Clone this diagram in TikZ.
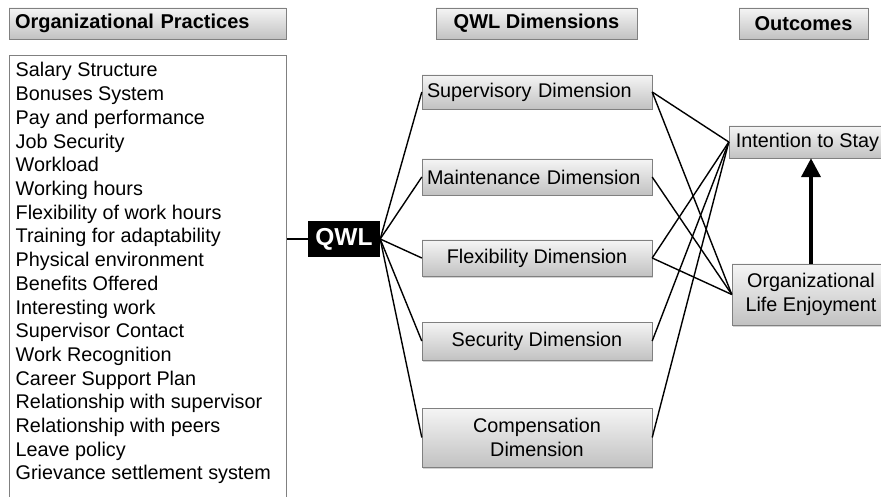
\documentclass[tikz,border=0pt]{standalone}
\usepackage{fontspec}
\setmainfont{Liberation Sans}
\usetikzlibrary{arrows.meta,shadows}

\tikzset{
  x=1pt, y=-1pt,
  greybox/.style={draw=black!50, top color=black!4, bottom color=black!24,
    drop shadow={shadow xshift=1.2pt, shadow yshift=-1.5pt, opacity=0.35},
    rectangle, inner sep=0pt, font=\fontsize{19.8}{24}\selectfont},
  headbox/.style={greybox, font=\bfseries\fontsize{20}{24}\selectfont},
  itemtext/.style={anchor=base west, inner sep=0pt, font=\fontsize{19.8}{24}\selectfont},
  link/.style={draw=black, line width=1.4pt},
}

\begin{document}
\begin{tikzpicture}
\useasboundingbox (0,0) rectangle (881,497);

% column headers
\node[headbox, minimum width=277pt, minimum height=31pt, text width=265pt, align=left]
  (hprac) at (147.5,23.5) {Organizational Practices};
\node[headbox, minimum width=201pt, minimum height=31pt] (hdim) at (536.5,23.5) {QWL Dimensions};
\node[headbox, minimum width=129pt, minimum height=31pt] (hout) at (803.5,23.5) {Outcomes};

% list of practices
\node[draw=black!50, line width=0.8pt, anchor=north west, minimum width=277pt,
  minimum height=470pt, inner sep=0pt] (practices) at (9,55) {};
\foreach \t [count=\i] in {Salary Structure, Bonuses System, Pay and performance,
    Job Security, Workload, Working hours, Flexibility of work hours,
    Training for adaptability, Physical environment, Benefits Offered,
    Interesting work, Supervisor Contact, Work Recognition, Career Support Plan,
    Relationship with supervisor, Relationship with peers, Leave policy,
    Grievance settlement system}
  \node[itemtext] (item\i) at (15.5,{77+(\i-1)*23.7}) {\t};

% central QWL node
\node[fill=black, minimum width=72pt, minimum height=36pt, inner sep=0pt,
  text=white, font=\bfseries\fontsize{24.5}{28}\selectfont] (qwl) at (344,239) {QWL};

% QWL dimensions
\node[greybox, minimum width=230pt, minimum height=34pt, text width=220pt, inner xsep=5pt, align=left]
  (sup) at (537,92) {Supervisory Dimension};
\node[greybox, minimum width=230pt, minimum height=36pt, text width=220pt, inner xsep=5pt, align=left]
  (mai) at (537,177) {Maintenance Dimension};
\node[greybox, minimum width=230pt, minimum height=36pt] (fle) at (537,258) {Flexibility Dimension};
\node[greybox, minimum width=230pt, minimum height=38pt] (sec) at (537,341) {Security Dimension};
\node[greybox, minimum width=230pt, minimum height=59pt, align=center] (com) at (537,437.5)
  {Compensation\\Dimension};

% outcomes
\node[greybox, minimum width=157pt, minimum height=32pt] (its) at (807.5,142) {Intention to Stay};
\node[greybox, minimum width=158pt, minimum height=61pt, align=center] (ole) at (811,294.5)
  {Organizational\\Life Enjoyment};

% connectors
\draw[link] (practices.east |- qwl) -- (qwl.west);
\foreach \d in {sup,mai,fle,sec,com}
  \draw[link] (qwl.east) -- (\d.west);

\draw[link] (sup.east) -- (its.west);
\draw[link] (sup.east) -- (ole.west);
\draw[link] (mai.east) -- (ole.west);
\draw[link] (fle.east) -- (its.west);
\draw[link] (fle.east) -- (ole.west);
\draw[link] (sec.east) -- (its.west);
\draw[link] (com.east) -- (its.west);

\draw[line width=4pt, -{Triangle[length=19pt, width=19pt]}]
  (ole.north) -- (ole.north |- its.south);
\end{tikzpicture}
\end{document}
